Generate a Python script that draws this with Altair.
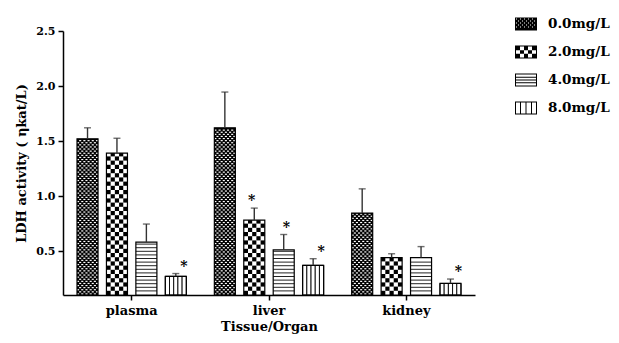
import altair as alt
import pandas as pd

# ---------------- data ----------------
TISSUES = ["plasma", "liver", "kidney"]
DOSES = ["0.0mg/L", "2.0mg/L", "4.0mg/L", "8.0mg/L"]
MEAN_PLASMA = [1.52, 1.39, 0.58, 0.27]
MEAN_LIVER = [1.62, 0.78, 0.51, 0.37]
MEAN_KIDNEY = [0.845, 0.44, 0.44, 0.205]
ERR_PLASMA = [0.10, 0.135, 0.165, 0.025]
ERR_LIVER = [0.325, 0.11, 0.14, 0.06]
ERR_KIDNEY = [0.22, 0.035, 0.10, 0.04]
SIG_PLASMA = [False, False, False, True]
SIG_LIVER = [False, True, True, True]
SIG_KIDNEY = [False, False, False, True]
Y_MIN, Y_MAX = 0.1, 2.5
Y_TICKS = [0.5, 1.0, 1.5, 2.0, 2.5]
Y_TITLE = "LDH activity ( ηkat/L)"
X_TITLE = "Tissue/Organ"

# ---------------- layout / style ----------------
W, H = 412, 264
PX_PER_UNIT = H / (Y_MAX - Y_MIN)
FONT = "DejaVu Serif"
P_OUT = 0.476            # outer padding of the dose groups (in dose steps)
P_IN = 4 / 14            # gap between bars (4 of 14 sub-steps)

means = [MEAN_PLASMA, MEAN_LIVER, MEAN_KIDNEY]
errs = [ERR_PLASMA, ERR_LIVER, ERR_KIDNEY]
sigs = [SIG_PLASMA, SIG_LIVER, SIG_KIDNEY]

rows = []
for i, t in enumerate(TISSUES):
    for j, d in enumerate(DOSES):
        m, e = means[i][j], errs[i][j]
        rows.append(dict(tissue=t, dose=d, mean=m, err=e, upper=m + e,
                         base=Y_MIN, sig="*" if sigs[i][j] else ""))
df = pd.DataFrame(rows)
legend_df = df.assign(group=df["dose"])

# sub-slot domains for pattern fills (with dummy edge slots)
PAD2 = int(14 * P_OUT)
PAD4 = int(7 * P_OUT)
SUB2 = [f"pa{k}" for k in range(PAD2)]
for j in range(4):
    SUB2 += [f"{j}-{c}" for c in range(10)]
    if j < 3:
        SUB2 += [f"g{j}-{k}" for k in range(4)]
SUB2 += [f"pb{k}" for k in range(PAD2)]
SUB4 = [f"pa{k}" for k in range(PAD4)]
for j in range(4):
    SUB4 += [f"{j}-{c}" for c in range(5)]
    if j < 3:
        SUB4 += [f"g{j}-{k}" for k in range(2)]
SUB4 += [f"pb{k}" for k in range(PAD4)]

def u(px):
    return px / PX_PER_UNIT

# fine dots pattern for 0.0 mg/L
dots = []
dr, dh = u(2.1), u(1.2)
for i, t in enumerate(TISSUES):
    v = means[i][0]
    r = 0
    while Y_MIN + r * dr + dh < v - u(0.5):
        y0 = Y_MIN + r * dr + u(0.45)
        for c in range(10):
            if (r + c) % 2 == 0:
                dots.append(dict(tissue=t, slot=f"0-{c}", y0=y0, y1=y0 + dh))
        r += 1
dots_df = pd.DataFrame(dots)

# checkerboard for 2.0 mg/L
checks = []
dc = u(4.2)
for i, t in enumerate(TISSUES):
    v = means[i][1]
    r = 0
    while Y_MIN + r * dc < v:
        y0 = Y_MIN + r * dc
        y1 = min(y0 + dc, v)
        for c in range(5):
            if (r + c) % 2 == 0:
                checks.append(dict(tissue=t, slot=f"1-{c}", y0=y0, y1=y1))
        r += 1
checks_df = pd.DataFrame(checks)

# horizontal stripes for 4.0 mg/L
hl = []
ds = u(3.6)
for i, t in enumerate(TISSUES):
    v = means[i][2]
    k = 1
    while Y_MIN + k * ds < v - u(1.5):
        y0 = Y_MIN + k * ds
        hl.append(dict(tissue=t, dose=DOSES[2], y0=y0, y1=y0 + u(1.0)))
        k += 1
hl_df = pd.DataFrame(hl)

# vertical stripes for 8.0 mg/L
vl = []
for i, t in enumerate(TISSUES):
    for c in range(5):
        vl.append(dict(tissue=t, slot=f"3-{c}", y0=Y_MIN, y1=means[i][3]))
vl_df = pd.DataFrame(vl)

# legend swatch paths (normalized -1..1)
HH = 6.5 / 11
T = 1 / 11

def rcw(x0, y0, x1, y1):
    return f"M{x0:.3f},{y0:.3f}L{x1:.3f},{y0:.3f}L{x1:.3f},{y1:.3f}L{x0:.3f},{y1:.3f}Z"

def rccw(x0, y0, x1, y1):
    return f"M{x0:.3f},{y0:.3f}L{x0:.3f},{y1:.3f}L{x1:.3f},{y1:.3f}L{x1:.3f},{y0:.3f}Z"

frame = rcw(-1, -HH, 1, HH) + rccw(-1 + T, -HH + T, 1 - T, HH - T)
s0 = rcw(-1, -HH, 1, HH)
pitch = 2 / 11
for r in range(5):
    for c in range(10):
        if (r + c) % 2 == 0:
            x0 = -1 + T + c * pitch
            y0 = -HH + T + r * pitch
            s0 += rccw(x0, y0, x0 + 0.09, y0 + 0.09)
s1 = frame
cw_, ch_ = (2 - 2 * T) / 5, (2 * HH - 2 * T) / 3
for r in range(3):
    for c in range(5):
        if (r + c) % 2 == 0:
            x0 = -1 + T + c * cw_
            y0 = -HH + T + r * ch_
            s1 += rcw(x0, y0, x0 + cw_, y0 + ch_)
s2 = frame
for k in range(1, 4):
    y = -HH + T + k * (2 * HH - 2 * T) / 4
    s2 += rcw(-1, y - T / 2, 1, y + T / 2)
s3 = frame
for k in range(1, 4):
    x = -1 + k * 0.5
    s3 += rcw(x - T / 2, -HH, x + T / 2, HH)
SHAPES = [s0, s1, s2, s3]

# ---------------- encodings ----------------
x_enc = alt.X("tissue:N", scale=alt.Scale(domain=TISSUES, paddingInner=0, paddingOuter=0),
              axis=alt.Axis(title=X_TITLE, labelAngle=0, labelFontSize=13, titleFontSize=13,
                            labelPadding=4, titlePadding=3))
y_scale = alt.Scale(domain=[Y_MIN, Y_MAX], nice=False, zero=False)
y_axis = alt.Axis(values=Y_TICKS, format=".1f", title=Y_TITLE, labelFontSize=11,
                  titleFontSize=13, titlePadding=7, labelPadding=3)
xo_main = alt.XOffset("dose:N", scale=alt.Scale(domain=DOSES, paddingInner=P_IN, paddingOuter=P_OUT))
xo_2 = alt.XOffset("slot:N", scale=alt.Scale(domain=SUB2, paddingInner=0,
                                             paddingOuter=14 * P_OUT - PAD2))
xo_4 = alt.XOffset("slot:N", scale=alt.Scale(domain=SUB4, paddingInner=0,
                                             paddingOuter=7 * P_OUT - PAD4))

base = alt.Chart(df)

bars_fill = base.mark_bar().encode(
    x=x_enc, xOffset=xo_main,
    y=alt.Y("mean:Q", scale=y_scale, axis=y_axis), y2="base:Q",
    color=alt.when(alt.datum.dose == DOSES[0]).then(alt.value("black")).otherwise(alt.value("white")),
)

dots_layer = alt.Chart(dots_df).mark_rect(color="white").encode(
    x=x_enc, xOffset=xo_2, y=alt.Y("y0:Q", scale=y_scale), y2="y1:Q")

checks_layer = alt.Chart(checks_df).mark_rect(color="black").encode(
    x=x_enc, xOffset=xo_4, y=alt.Y("y0:Q", scale=y_scale), y2="y1:Q")

hl_layer = alt.Chart(hl_df).mark_bar(color="#222222").encode(
    x=x_enc, xOffset=xo_main, y=alt.Y("y0:Q", scale=y_scale), y2="y1:Q")

vl_layer = alt.Chart(vl_df).mark_rect(fill="white", stroke="black", strokeWidth=0.9).encode(
    x=x_enc, xOffset=xo_4, y=alt.Y("y0:Q", scale=y_scale), y2="y1:Q")

outline = base.mark_bar(fillOpacity=0, stroke="black", strokeWidth=1.2).encode(
    x=x_enc, xOffset=xo_main, y=alt.Y("mean:Q", scale=y_scale), y2="base:Q")

err_rule = base.mark_rule(color="#333333", strokeWidth=1.4).encode(
    x=x_enc, xOffset=xo_main, y=alt.Y("mean:Q", scale=y_scale), y2="upper:Q")

err_cap = base.mark_tick(orient="horizontal", size=7, thickness=1.4, color="#333333").encode(
    x=x_enc, xOffset=xo_main, y=alt.Y("upper:Q", scale=y_scale))

stars = base.mark_text(font=FONT, fontSize=14, fontWeight="bold", baseline="alphabetic",
                       align="center", dy=-3, color="black").encode(
    x=x_enc, xOffset=xo_main, y=alt.Y("upper:Q", scale=y_scale), text="sig:N")

legend_pts = alt.Chart(legend_df).mark_point(filled=True, color="black").encode(
    x=x_enc, y=alt.Y("mean:Q", scale=y_scale),
    shape=alt.Shape("group:N", scale=alt.Scale(domain=DOSES, range=SHAPES),
                    legend=alt.Legend(orient="none", legendX=452, legendY=-18, title=None,
                                      symbolSize=484, symbolOpacity=1, symbolStrokeWidth=0,
                                      symbolFillColor="black", labelFont=FONT,
                                      labelFontWeight="bold", labelFontSize=13.5,
                                      labelColor="black", labelOffset=11, rowPadding=10,
                                      padding=0)),
    opacity=alt.value(0),
)

chart = alt.layer(
    bars_fill, dots_layer, checks_layer, hl_layer, vl_layer, outline,
    err_rule, err_cap, stars, legend_pts,
).resolve_scale(xOffset="independent").properties(
    width=W, height=H,
    autosize=alt.AutoSizeParams(type="none"),
    padding={"left": 55, "top": 23, "right": 136, "bottom": 40},
).configure_view(strokeWidth=0).configure_axis(
    grid=False, domainColor="black", domainWidth=1.5, tickColor="black", tickWidth=1.5,
    tickSize=5, labelFont=FONT, labelFontWeight="bold", labelColor="black",
    titleFont=FONT, titleFontWeight="bold", titleColor="black",
)

chart.save("out.html", embed_options={"renderer": "svg", "actions": False})
